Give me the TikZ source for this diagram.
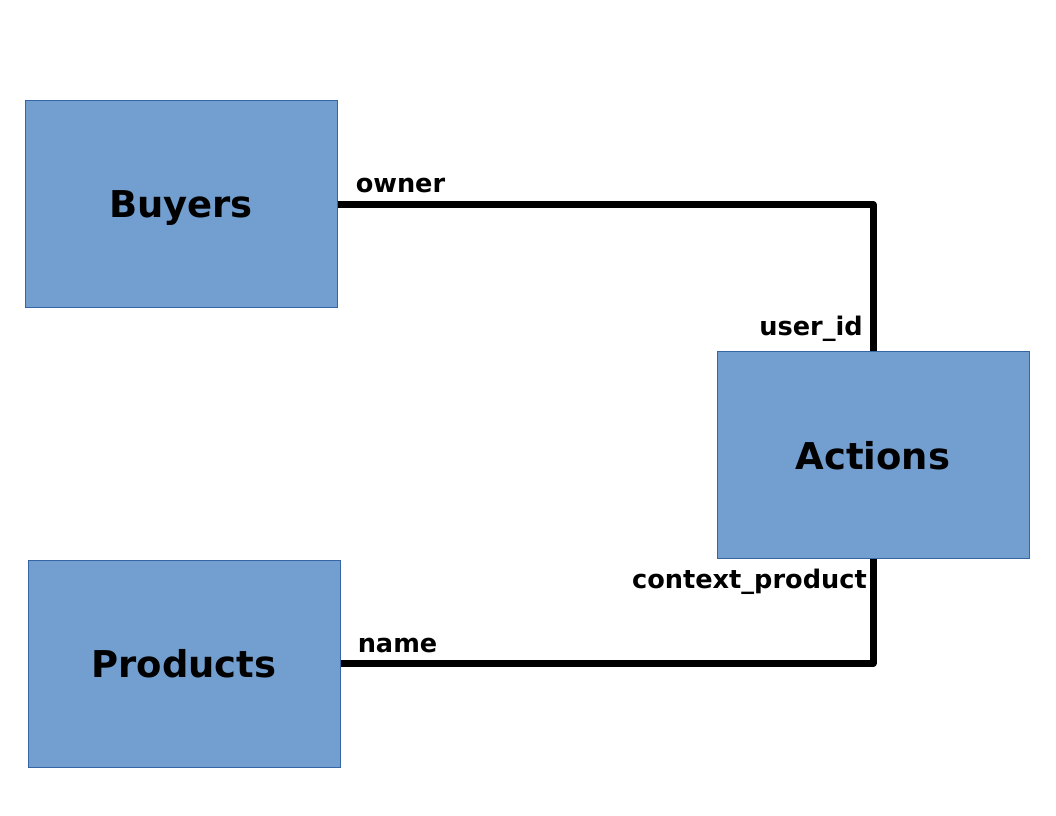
\documentclass[tikz,border=0pt]{standalone}
\usepackage{fontspec}
\setmainfont{DejaVu Sans}
\usepackage{tikz}
\usetikzlibrary{positioning}

\definecolor{boxfill}{HTML}{729FCF}
\definecolor{boxline}{HTML}{3465A4}

\begin{document}
\begin{tikzpicture}[x=0.75pt, y=-0.75pt,
    entity/.style={rectangle, minimum width=234pt, minimum height=155.25pt,
                   text centered, draw=boxline, line width=0.75pt, fill=boxfill,
                   text depth=0pt, font=\fontsize{27.7}{33}\selectfont\bfseries},
    field/.style={inner sep=0pt, font=\fontsize{19.2}{23}\selectfont\bfseries},
    link/.style={line width=5.25pt, line join=round}]

    \useasboundingbox (0,0) rectangle (1056,816);

    % Nodes
    \node[entity] (buyers) at (181,204.5) {Buyers};
    \node[entity] (actions) at (873,455) {Actions};
    \node[entity] (products) at (184,663.5) {Products};

    % Links
    \draw[link] (buyers.east) -| (actions.north);
    \draw[link] (products.east) -| (actions.south);

    % Labels
    \path (buyers.east) ++(18,-12) node[field, anchor=base west] (owner) {owner};
    \path (actions.north) ++(-10,-16) node[field, anchor=base east] (userid) {user\_id};
    \path (actions.south) ++(-6,29) node[field, anchor=base east] (ctxprod) {context\_product};
    \path (products.east) ++(17,-11) node[field, anchor=base west] (name) {name};

\end{tikzpicture}
\end{document}
